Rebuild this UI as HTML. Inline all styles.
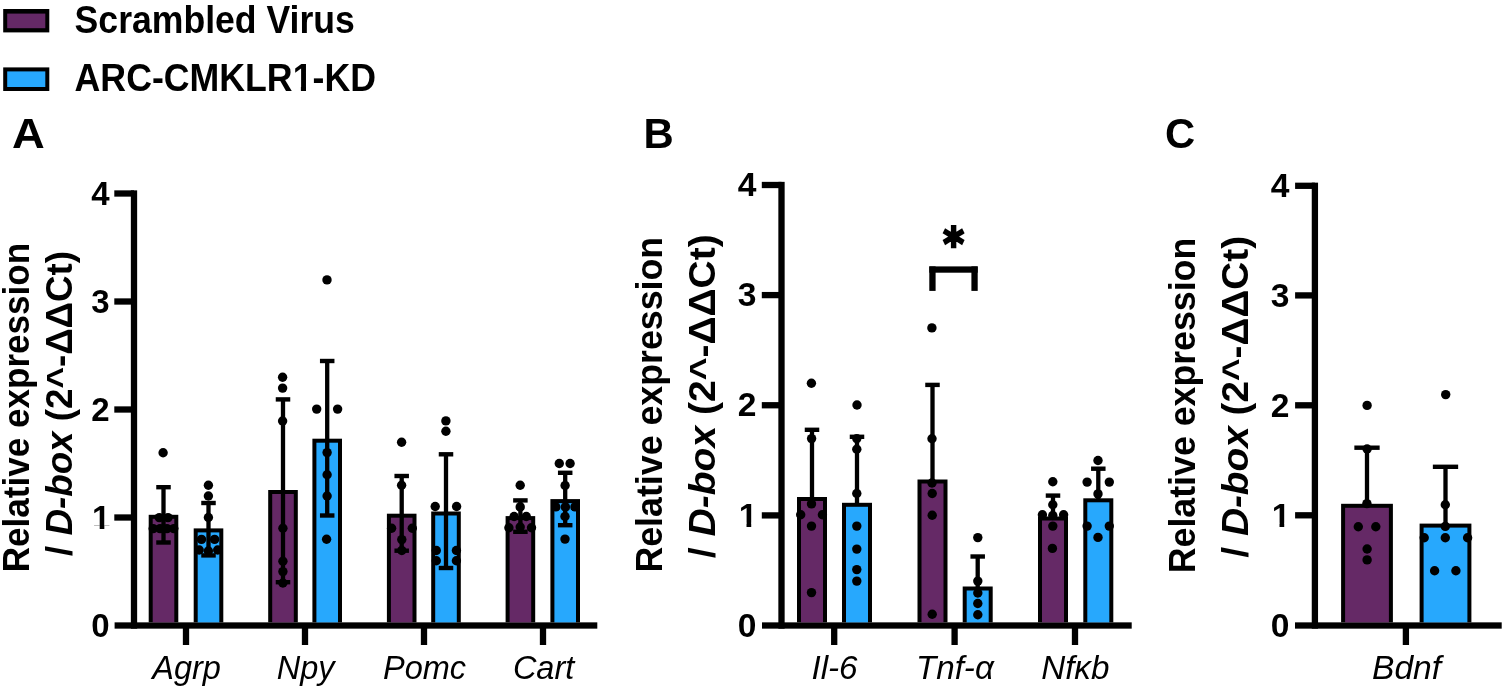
<!DOCTYPE html>
<html><head><meta charset="utf-8"><title>Figure</title>
<style>
html,body{margin:0;padding:0;background:#fff;}
body{width:1505px;height:690px;overflow:hidden;}
svg{display:block;font-family:"Liberation Sans", Arial, sans-serif;}
</style></head>
<body>
<svg width="1505" height="690" viewBox="0 0 1505 690">
<rect x="0" y="0" width="1505" height="690" fill="#fff"/>
<rect x="3.20" y="9.00" width="46.10" height="23.40" fill="#000"/>
<rect x="7.20" y="13.60" width="38.10" height="14.60" fill="#652966"/>
<rect x="3.20" y="67.40" width="46.10" height="23.60" fill="#000"/>
<rect x="7.20" y="71.40" width="38.10" height="15.60" fill="#27A8FD"/>
<text transform="translate(74.6,33.0) scale(1,1.10)" font-size="35.6" font-weight="bold">Scrambled Virus</text>
<text transform="translate(74.6,90.7) scale(1,1.09)" font-size="35.7" font-weight="bold">ARC-CMKLR1-KD</text>
<text transform="translate(11.9,148.3) scale(1.07,1)" font-size="42.4" font-weight="bold">A</text>
<text x="643.50" y="148.30" font-size="41.8" font-weight="bold" font-style="normal" text-anchor="start" >B</text>
<text x="1165.00" y="148.30" font-size="41.8" font-weight="bold" font-style="normal" text-anchor="start" >C</text>
<text transform="translate(28.70,407.60) rotate(-90) scale(0.9481,1)" font-size="37.0" font-weight="bold" text-anchor="middle">Relative expression</text>
<text transform="translate(72.00,403.50) rotate(-90) scale(0.9941,1)" font-size="37.0" font-weight="bold" text-anchor="middle">/ <tspan font-style="italic">D-box</tspan> (2^-&#916;&#916;Ct)</text>
<text transform="translate(662.00,404.70) rotate(-90) scale(0.9662,1)" font-size="37.0" font-weight="bold" text-anchor="middle">Relative expression</text>
<text transform="translate(715.20,396.20) rotate(-90) scale(1.0559,1)" font-size="37.0" font-weight="bold" text-anchor="middle">/ <tspan font-style="italic">D-box</tspan> (2^-&#916;&#916;Ct)</text>
<text transform="translate(1195.30,405.50) rotate(-90) scale(0.9653,1)" font-size="37.0" font-weight="bold" text-anchor="middle">Relative expression</text>
<text transform="translate(1248.00,396.80) rotate(-90) scale(1.0482,1)" font-size="37.0" font-weight="bold" text-anchor="middle">/ <tspan font-style="italic">D-box</tspan> (2^-&#916;&#916;Ct)</text>
<rect x="130.85" y="190.35" width="6.30" height="438.30" fill="#000"/>
<rect x="114.30" y="190.35" width="19.70" height="6.30" fill="#000"/>
<rect x="114.30" y="298.35" width="19.70" height="6.30" fill="#000"/>
<rect x="114.30" y="406.35" width="19.70" height="6.30" fill="#000"/>
<rect x="114.30" y="514.35" width="19.70" height="6.30" fill="#000"/>
<rect x="114.60" y="622.35" width="482.70" height="6.30" fill="#000"/>
<rect x="182.85" y="625.50" width="6.30" height="19.50" fill="#000"/>
<rect x="301.85" y="625.50" width="6.30" height="19.50" fill="#000"/>
<rect x="420.85" y="625.50" width="6.30" height="19.50" fill="#000"/>
<rect x="539.85" y="625.50" width="6.30" height="19.50" fill="#000"/>
<text x="109.50" y="205.30" font-size="33.0" font-weight="bold" font-style="normal" text-anchor="end" >4</text>
<text x="109.50" y="313.30" font-size="33.0" font-weight="bold" font-style="normal" text-anchor="end" >3</text>
<text x="109.50" y="421.30" font-size="33.0" font-weight="bold" font-style="normal" text-anchor="end" >2</text>
<text x="110.40" y="529.30" font-size="33.0" font-weight="bold" font-style="normal" text-anchor="end" >1</text>
<text x="109.50" y="637.30" font-size="33.0" font-weight="bold" font-style="normal" text-anchor="end" >0</text>
<text x="186.60" y="679.00" font-size="32.5" font-weight="normal" font-style="italic" text-anchor="middle" >Agrp</text>
<text x="305.60" y="679.00" font-size="32.5" font-weight="normal" font-style="italic" text-anchor="middle" >Npy</text>
<text x="424.60" y="679.00" font-size="32.5" font-weight="normal" font-style="italic" text-anchor="middle" >Pomc</text>
<text x="543.60" y="679.00" font-size="32.5" font-weight="normal" font-style="italic" text-anchor="middle" >Cart</text>
<rect x="148.70" y="514.80" width="29.60" height="107.55" fill="#000"/>
<rect x="152.70" y="518.80" width="21.60" height="103.55" fill="#652966"/>
<rect x="193.70" y="528.40" width="29.60" height="93.95" fill="#000"/>
<rect x="197.70" y="532.40" width="21.60" height="89.95" fill="#27A8FD"/>
<rect x="268.20" y="490.00" width="29.60" height="132.35" fill="#000"/>
<rect x="272.20" y="494.00" width="21.60" height="128.35" fill="#652966"/>
<rect x="312.40" y="438.70" width="29.60" height="183.65" fill="#000"/>
<rect x="316.40" y="442.70" width="21.60" height="179.65" fill="#27A8FD"/>
<rect x="386.90" y="513.70" width="29.60" height="108.65" fill="#000"/>
<rect x="390.90" y="517.70" width="21.60" height="104.65" fill="#652966"/>
<rect x="431.20" y="511.50" width="29.60" height="110.85" fill="#000"/>
<rect x="435.20" y="515.50" width="21.60" height="106.85" fill="#27A8FD"/>
<rect x="505.60" y="516.10" width="29.60" height="106.25" fill="#000"/>
<rect x="509.60" y="520.10" width="21.60" height="102.25" fill="#652966"/>
<rect x="550.40" y="499.10" width="29.60" height="123.25" fill="#000"/>
<rect x="554.40" y="503.10" width="21.60" height="119.25" fill="#27A8FD"/>
<rect x="161.35" y="487.20" width="4.30" height="55.30" fill="#000"/>
<rect x="156.25" y="485.00" width="14.50" height="4.40" fill="#000"/>
<rect x="156.25" y="540.30" width="14.50" height="4.40" fill="#000"/>
<circle cx="163.10" cy="452.70" r="4.7" fill="#000"/>
<circle cx="159.30" cy="517.60" r="4.7" fill="#000"/>
<circle cx="168.00" cy="517.60" r="4.7" fill="#000"/>
<circle cx="153.20" cy="528.60" r="4.7" fill="#000"/>
<circle cx="160.00" cy="528.60" r="4.7" fill="#000"/>
<circle cx="167.00" cy="528.60" r="4.7" fill="#000"/>
<circle cx="173.80" cy="528.60" r="4.7" fill="#000"/>
<rect x="206.35" y="503.00" width="4.30" height="52.40" fill="#000"/>
<rect x="201.25" y="500.80" width="14.50" height="4.40" fill="#000"/>
<rect x="201.25" y="553.20" width="14.50" height="4.40" fill="#000"/>
<circle cx="208.40" cy="485.20" r="4.7" fill="#000"/>
<circle cx="208.40" cy="496.00" r="4.7" fill="#000"/>
<circle cx="208.40" cy="517.50" r="4.7" fill="#000"/>
<circle cx="201.50" cy="539.40" r="4.7" fill="#000"/>
<circle cx="214.60" cy="539.40" r="4.7" fill="#000"/>
<circle cx="199.20" cy="550.00" r="4.7" fill="#000"/>
<circle cx="217.70" cy="550.00" r="4.7" fill="#000"/>
<circle cx="208.40" cy="551.00" r="4.7" fill="#000"/>
<rect x="280.85" y="399.40" width="4.30" height="182.80" fill="#000"/>
<rect x="275.75" y="397.20" width="14.50" height="4.40" fill="#000"/>
<rect x="275.75" y="580.00" width="14.50" height="4.40" fill="#000"/>
<circle cx="282.60" cy="377.20" r="4.7" fill="#000"/>
<circle cx="282.60" cy="388.10" r="4.7" fill="#000"/>
<circle cx="282.60" cy="421.00" r="4.7" fill="#000"/>
<circle cx="282.90" cy="528.30" r="4.7" fill="#000"/>
<circle cx="282.90" cy="561.30" r="4.7" fill="#000"/>
<circle cx="282.90" cy="571.60" r="4.7" fill="#000"/>
<circle cx="282.90" cy="583.00" r="4.7" fill="#000"/>
<rect x="325.05" y="361.00" width="4.30" height="154.50" fill="#000"/>
<rect x="319.95" y="358.80" width="14.50" height="4.40" fill="#000"/>
<rect x="319.95" y="513.30" width="14.50" height="4.40" fill="#000"/>
<circle cx="327.00" cy="279.90" r="4.7" fill="#000"/>
<circle cx="316.70" cy="409.10" r="4.7" fill="#000"/>
<circle cx="337.60" cy="409.10" r="4.7" fill="#000"/>
<circle cx="327.10" cy="452.60" r="4.7" fill="#000"/>
<circle cx="327.10" cy="474.80" r="4.7" fill="#000"/>
<circle cx="327.10" cy="496.00" r="4.7" fill="#000"/>
<circle cx="326.60" cy="539.20" r="4.7" fill="#000"/>
<rect x="399.55" y="476.00" width="4.30" height="74.70" fill="#000"/>
<rect x="394.45" y="473.80" width="14.50" height="4.40" fill="#000"/>
<rect x="394.45" y="548.50" width="14.50" height="4.40" fill="#000"/>
<circle cx="401.60" cy="442.20" r="4.7" fill="#000"/>
<circle cx="401.60" cy="485.20" r="4.7" fill="#000"/>
<circle cx="391.60" cy="528.30" r="4.7" fill="#000"/>
<circle cx="412.30" cy="528.30" r="4.7" fill="#000"/>
<circle cx="401.80" cy="539.60" r="4.7" fill="#000"/>
<circle cx="401.80" cy="550.50" r="4.7" fill="#000"/>
<rect x="443.85" y="454.30" width="4.30" height="113.70" fill="#000"/>
<rect x="438.75" y="452.10" width="14.50" height="4.40" fill="#000"/>
<rect x="438.75" y="565.80" width="14.50" height="4.40" fill="#000"/>
<circle cx="445.90" cy="420.90" r="4.7" fill="#000"/>
<circle cx="445.90" cy="431.30" r="4.7" fill="#000"/>
<circle cx="435.20" cy="506.50" r="4.7" fill="#000"/>
<circle cx="456.60" cy="506.50" r="4.7" fill="#000"/>
<circle cx="436.30" cy="550.50" r="4.7" fill="#000"/>
<circle cx="456.40" cy="550.50" r="4.7" fill="#000"/>
<circle cx="436.30" cy="560.70" r="4.7" fill="#000"/>
<circle cx="456.40" cy="560.70" r="4.7" fill="#000"/>
<rect x="518.25" y="500.40" width="4.30" height="31.40" fill="#000"/>
<rect x="513.15" y="498.20" width="14.50" height="4.40" fill="#000"/>
<rect x="513.15" y="529.60" width="14.50" height="4.40" fill="#000"/>
<circle cx="520.20" cy="485.20" r="4.7" fill="#000"/>
<circle cx="520.20" cy="506.90" r="4.7" fill="#000"/>
<circle cx="514.10" cy="516.50" r="4.7" fill="#000"/>
<circle cx="526.30" cy="516.50" r="4.7" fill="#000"/>
<circle cx="508.90" cy="527.80" r="4.7" fill="#000"/>
<circle cx="520.20" cy="527.00" r="4.7" fill="#000"/>
<circle cx="531.50" cy="527.80" r="4.7" fill="#000"/>
<rect x="563.05" y="472.80" width="4.30" height="52.40" fill="#000"/>
<rect x="557.95" y="470.60" width="14.50" height="4.40" fill="#000"/>
<rect x="557.95" y="523.00" width="14.50" height="4.40" fill="#000"/>
<circle cx="559.30" cy="463.50" r="4.7" fill="#000"/>
<circle cx="570.10" cy="463.50" r="4.7" fill="#000"/>
<circle cx="565.10" cy="485.50" r="4.7" fill="#000"/>
<circle cx="555.80" cy="506.90" r="4.7" fill="#000"/>
<circle cx="565.40" cy="506.90" r="4.7" fill="#000"/>
<circle cx="575.00" cy="506.90" r="4.7" fill="#000"/>
<circle cx="565.00" cy="516.50" r="4.7" fill="#000"/>
<circle cx="565.00" cy="539.10" r="4.7" fill="#000"/>
<rect x="778.35" y="181.85" width="6.30" height="446.80" fill="#000"/>
<rect x="761.80" y="181.85" width="19.70" height="6.30" fill="#000"/>
<rect x="761.80" y="291.95" width="19.70" height="6.30" fill="#000"/>
<rect x="761.80" y="402.10" width="19.70" height="6.30" fill="#000"/>
<rect x="761.80" y="512.25" width="19.70" height="6.30" fill="#000"/>
<rect x="762.00" y="622.35" width="369.70" height="6.30" fill="#000"/>
<rect x="831.05" y="625.50" width="6.30" height="19.50" fill="#000"/>
<rect x="951.45" y="625.50" width="6.30" height="19.50" fill="#000"/>
<rect x="1071.85" y="625.50" width="6.30" height="19.50" fill="#000"/>
<text x="756.50" y="196.20" font-size="33.6" font-weight="bold" font-style="normal" text-anchor="end" >4</text>
<text x="756.50" y="306.30" font-size="33.6" font-weight="bold" font-style="normal" text-anchor="end" >3</text>
<text x="756.50" y="416.45" font-size="33.6" font-weight="bold" font-style="normal" text-anchor="end" >2</text>
<text x="757.40" y="526.60" font-size="33.6" font-weight="bold" font-style="normal" text-anchor="end" >1</text>
<text x="756.50" y="636.70" font-size="33.6" font-weight="bold" font-style="normal" text-anchor="end" >0</text>
<text x="834.50" y="679.10" font-size="33.2" font-weight="normal" font-style="italic" text-anchor="middle" >Il-6</text>
<text x="954.90" y="679.10" font-size="33.2" font-weight="normal" font-style="italic" text-anchor="middle" >Tnf-&#945;</text>
<text x="1075.30" y="679.10" font-size="33.2" font-weight="normal" font-style="italic" text-anchor="middle" >Nf&#954;b</text>
<rect x="797.00" y="497.00" width="30.00" height="125.35" fill="#000"/>
<rect x="801.00" y="501.00" width="22.00" height="121.35" fill="#652966"/>
<rect x="842.00" y="502.80" width="30.00" height="119.55" fill="#000"/>
<rect x="846.00" y="506.80" width="22.00" height="115.55" fill="#27A8FD"/>
<rect x="917.50" y="479.50" width="30.00" height="142.85" fill="#000"/>
<rect x="921.50" y="483.50" width="22.00" height="138.85" fill="#652966"/>
<rect x="962.70" y="586.50" width="30.00" height="35.85" fill="#000"/>
<rect x="966.70" y="590.50" width="22.00" height="31.85" fill="#27A8FD"/>
<rect x="1038.00" y="516.50" width="30.00" height="105.85" fill="#000"/>
<rect x="1042.00" y="520.50" width="22.00" height="101.85" fill="#652966"/>
<rect x="1083.30" y="498.30" width="30.00" height="124.05" fill="#000"/>
<rect x="1087.30" y="502.30" width="22.00" height="120.05" fill="#27A8FD"/>
<rect x="809.85" y="429.80" width="4.30" height="69.20" fill="#000"/>
<rect x="804.75" y="427.60" width="14.50" height="4.40" fill="#000"/>
<circle cx="811.40" cy="383.30" r="4.7" fill="#000"/>
<circle cx="811.60" cy="438.60" r="4.7" fill="#000"/>
<circle cx="811.50" cy="503.90" r="4.7" fill="#000"/>
<circle cx="800.70" cy="514.80" r="4.7" fill="#000"/>
<circle cx="822.40" cy="514.80" r="4.7" fill="#000"/>
<circle cx="811.50" cy="526.10" r="4.7" fill="#000"/>
<circle cx="811.50" cy="592.60" r="4.7" fill="#000"/>
<rect x="854.85" y="436.80" width="4.30" height="68.00" fill="#000"/>
<rect x="849.75" y="434.60" width="14.50" height="4.40" fill="#000"/>
<circle cx="857.00" cy="405.00" r="4.7" fill="#000"/>
<circle cx="856.80" cy="438.60" r="4.7" fill="#000"/>
<circle cx="856.80" cy="449.30" r="4.7" fill="#000"/>
<circle cx="856.80" cy="493.50" r="4.7" fill="#000"/>
<circle cx="856.80" cy="526.10" r="4.7" fill="#000"/>
<circle cx="856.80" cy="549.10" r="4.7" fill="#000"/>
<circle cx="856.80" cy="569.60" r="4.7" fill="#000"/>
<circle cx="856.80" cy="581.10" r="4.7" fill="#000"/>
<rect x="930.35" y="384.90" width="4.30" height="96.60" fill="#000"/>
<rect x="925.25" y="382.70" width="14.50" height="4.40" fill="#000"/>
<circle cx="931.90" cy="327.90" r="4.7" fill="#000"/>
<circle cx="932.00" cy="438.70" r="4.7" fill="#000"/>
<circle cx="932.00" cy="483.00" r="4.7" fill="#000"/>
<circle cx="932.20" cy="493.50" r="4.7" fill="#000"/>
<circle cx="932.20" cy="515.20" r="4.7" fill="#000"/>
<circle cx="932.20" cy="614.30" r="4.7" fill="#000"/>
<rect x="975.55" y="556.50" width="4.30" height="32.00" fill="#000"/>
<rect x="970.45" y="554.30" width="14.50" height="4.40" fill="#000"/>
<circle cx="977.80" cy="537.60" r="4.7" fill="#000"/>
<circle cx="977.80" cy="581.10" r="4.7" fill="#000"/>
<circle cx="977.80" cy="593.00" r="4.7" fill="#000"/>
<circle cx="977.80" cy="603.50" r="4.7" fill="#000"/>
<circle cx="977.80" cy="614.80" r="4.7" fill="#000"/>
<rect x="1050.85" y="495.60" width="4.30" height="22.90" fill="#000"/>
<rect x="1045.75" y="493.40" width="14.50" height="4.40" fill="#000"/>
<circle cx="1052.80" cy="481.70" r="4.7" fill="#000"/>
<circle cx="1052.80" cy="504.70" r="4.7" fill="#000"/>
<circle cx="1042.40" cy="514.80" r="4.7" fill="#000"/>
<circle cx="1063.60" cy="514.80" r="4.7" fill="#000"/>
<circle cx="1052.80" cy="515.50" r="4.7" fill="#000"/>
<circle cx="1052.80" cy="526.10" r="4.7" fill="#000"/>
<circle cx="1052.40" cy="548.40" r="4.7" fill="#000"/>
<rect x="1096.15" y="468.70" width="4.30" height="31.60" fill="#000"/>
<rect x="1091.05" y="466.50" width="14.50" height="4.40" fill="#000"/>
<circle cx="1098.00" cy="460.50" r="4.7" fill="#000"/>
<circle cx="1087.10" cy="482.10" r="4.7" fill="#000"/>
<circle cx="1109.30" cy="482.10" r="4.7" fill="#000"/>
<circle cx="1098.00" cy="493.90" r="4.7" fill="#000"/>
<circle cx="1087.10" cy="526.10" r="4.7" fill="#000"/>
<circle cx="1109.30" cy="526.10" r="4.7" fill="#000"/>
<circle cx="1098.00" cy="537.40" r="4.7" fill="#000"/>
<rect x="929.30" y="266.40" width="48.40" height="6.30" fill="#000"/>
<rect x="929.30" y="266.40" width="6.30" height="24.50" fill="#000"/>
<rect x="971.40" y="266.40" width="6.30" height="24.50" fill="#000"/>
<text transform="translate(953.6,258.6) scale(0.9,1)" text-anchor="middle" font-size="44" stroke="#000" stroke-width="2.4" font-weight="bold" font-family="DejaVu Sans, sans-serif">*</text>
<rect x="1311.75" y="182.65" width="6.30" height="446.00" fill="#000"/>
<rect x="1295.10" y="182.65" width="19.80" height="6.30" fill="#000"/>
<rect x="1295.10" y="292.25" width="19.80" height="6.30" fill="#000"/>
<rect x="1295.10" y="402.15" width="19.80" height="6.30" fill="#000"/>
<rect x="1295.10" y="512.15" width="19.80" height="6.30" fill="#000"/>
<rect x="1295.00" y="622.35" width="206.70" height="6.30" fill="#000"/>
<rect x="1402.75" y="625.50" width="6.30" height="19.50" fill="#000"/>
<text x="1289.50" y="197.20" font-size="33.6" font-weight="bold" font-style="normal" text-anchor="end" >4</text>
<text x="1289.50" y="306.80" font-size="33.6" font-weight="bold" font-style="normal" text-anchor="end" >3</text>
<text x="1289.50" y="416.70" font-size="33.6" font-weight="bold" font-style="normal" text-anchor="end" >2</text>
<text x="1290.40" y="526.70" font-size="33.6" font-weight="bold" font-style="normal" text-anchor="end" >1</text>
<text x="1289.50" y="636.80" font-size="33.6" font-weight="bold" font-style="normal" text-anchor="end" >0</text>
<text x="1406.60" y="679.10" font-size="33.6" font-weight="normal" font-style="italic" text-anchor="middle" >Bdnf</text>
<rect x="1341.10" y="503.80" width="51.80" height="118.55" fill="#000"/>
<rect x="1345.10" y="507.80" width="43.80" height="114.55" fill="#652966"/>
<rect x="1419.60" y="523.60" width="51.80" height="98.75" fill="#000"/>
<rect x="1423.60" y="527.60" width="43.80" height="94.75" fill="#27A8FD"/>
<rect x="1364.85" y="447.70" width="4.30" height="58.10" fill="#000"/>
<rect x="1354.35" y="445.50" width="25.30" height="4.40" fill="#000"/>
<circle cx="1367.10" cy="405.40" r="4.7" fill="#000"/>
<circle cx="1367.10" cy="449.00" r="4.7" fill="#000"/>
<circle cx="1366.90" cy="503.60" r="4.7" fill="#000"/>
<circle cx="1358.30" cy="526.80" r="4.7" fill="#000"/>
<circle cx="1375.80" cy="526.80" r="4.7" fill="#000"/>
<circle cx="1367.10" cy="549.00" r="4.7" fill="#000"/>
<circle cx="1367.10" cy="559.90" r="4.7" fill="#000"/>
<rect x="1443.35" y="466.80" width="4.30" height="58.80" fill="#000"/>
<rect x="1432.85" y="464.60" width="25.30" height="4.40" fill="#000"/>
<circle cx="1445.70" cy="394.60" r="4.7" fill="#000"/>
<circle cx="1445.30" cy="504.70" r="4.7" fill="#000"/>
<circle cx="1445.30" cy="526.40" r="4.7" fill="#000"/>
<circle cx="1424.20" cy="537.70" r="4.7" fill="#000"/>
<circle cx="1445.30" cy="537.70" r="4.7" fill="#000"/>
<circle cx="1467.60" cy="537.70" r="4.7" fill="#000"/>
<circle cx="1434.60" cy="570.70" r="4.7" fill="#000"/>
<circle cx="1455.90" cy="570.70" r="4.7" fill="#000"/>
<rect x="93.13" y="525.53" width="6.57" height="4.57" fill="#fff"/>
<rect x="104.33" y="525.53" width="6.15" height="4.57" fill="#fff"/>
<rect x="739.83" y="522.77" width="6.68" height="4.63" fill="#fff"/>
<rect x="751.22" y="522.77" width="6.25" height="4.63" fill="#fff"/>
<rect x="1272.83" y="522.87" width="6.68" height="4.63" fill="#fff"/>
<rect x="1284.22" y="522.87" width="6.25" height="4.63" fill="#fff"/>
<rect x="294.40" y="86.70" width="6.50" height="4.70" fill="#fff"/>
<rect x="306.00" y="86.70" width="6.60" height="4.70" fill="#fff"/>
</svg>
</body></html>
